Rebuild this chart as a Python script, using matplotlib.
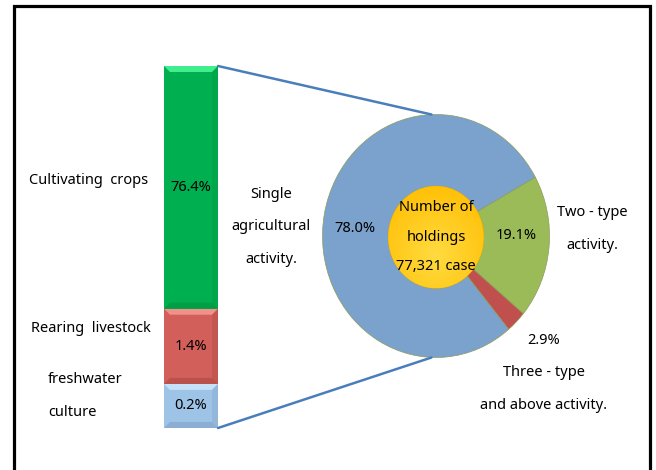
import numpy as np
import matplotlib.pyplot as plt
from matplotlib.patches import Rectangle, Circle, Polygon, ConnectionPatch

plt.rcParams['font.family'] = ['Noto Sans', 'DejaVu Sans']

# breakdown of single agricultural activity (stacked column, bottom to top)
bar_labels = ['freshwater\nculture', 'Rearing  livestock', 'Cultivating  crops']
bar_pcts = [0.2, 1.4, 76.4]
bar_heights = [44, 75, 242]  # drawn block sizes (not to scale)
bar_colors = ['#9DC3E6', '#D35F5A', '#00B050']
bar_light = ['#C6E2FA', '#F0918B', '#40EE8E']
bar_dark = ['#7FA3C8', '#A94844', '#00953F']

# holdings by number of activity types
pie_labels = ['Two - type\nactivity.', 'Three - type\nand above activity.',
              'Single\nagricultural\nactivity.']
pie_pcts = [19.1, 2.9, 78.0]
pie_colors = ['#9BBB59', '#C0504D', '#7BA1CD']
center_text = 'Number of\nholdings\n77,321 case'

W, H = 656, 470
FS = 10.5
LS = 2.55


def fx(px):
    return px / W


def fy(py):
    return 1 - py / H


fig = plt.figure(figsize=(W / 100, H / 100), dpi=100)

# ---- stacked column on the left
ax_bar = fig.add_axes([fx(164), fy(428), 54 / W, 362 / H])
total = sum(bar_heights)
bottom = 0
bx, bd = 0.11, 6  # bevel inset (x in bar widths, y in px units)
for h, pct, c, cl, cd in zip(bar_heights, bar_pcts, bar_colors, bar_light, bar_dark):
    top = bottom + h
    ax_bar.bar(0, h, bottom=bottom, width=1, color=c, edgecolor='none')
    # bevelled edges: light on top, dark at the bottom, mid on the sides
    ax_bar.add_patch(Polygon([(-0.5, top), (0.5, top), (0.5 - bx, top - bd),
                              (-0.5 + bx, top - bd)], color=cl, lw=0))
    ax_bar.add_patch(Polygon([(-0.5, bottom), (0.5, bottom), (0.5 - bx, bottom + bd),
                              (-0.5 + bx, bottom + bd)], color=cd, lw=0, alpha=0.6))
    ax_bar.add_patch(Polygon([(0.5, top), (0.5, bottom), (0.5 - bx, bottom + bd),
                              (0.5 - bx, top - bd)], color=cd, lw=0, alpha=0.35))
    ax_bar.text(0, bottom + h / 2, f'{pct}%', ha='center', va='center', fontsize=FS)
    bottom = top
ax_bar.set_xlim(-0.5, 0.5)
ax_bar.set_ylim(0, total)
ax_bar.axis('off')

# category names beside the column
fig.text(fx(89), fy(180), bar_labels[2], ha='center', va='center', fontsize=FS)
fig.text(fx(91), fy(328), bar_labels[1], ha='center', va='center', fontsize=FS)
fig.text(fx(48), fy(396), bar_labels[0], ha='left', va='center', fontsize=FS,
         linespacing=LS)

# ---- pie on the right
ax_pie = fig.add_axes([fx(322.5), fy(357.5), 227 / W, 243 / H])
ax_pie.pie(pie_pcts, colors=pie_colors, startangle=29, counterclock=False,
           radius=1, wedgeprops=dict(edgecolor='#8C9C5A', linewidth=0.5))
ax_pie.set_aspect('auto')
ax_pie.set_xlim(-1, 1)
ax_pie.set_ylim(-1, 1)
ax_pie.axis('off')

# gold centre disc with a soft radial shade
r_in = 0.42
disc = Circle((0, -0.01), r_in, facecolor='#FFC000', edgecolor='#E0A800', lw=0.6)
ax_pie.add_patch(disc)
gy, gx = np.mgrid[-1:1:200j, -1:1:200j]
shade = np.clip(np.hypot(gx, gy + 0.35) / 1.5, 0, 1)
img = np.zeros((200, 200, 4))
img[..., 0] = 1.0
img[..., 1] = 0.86 - 0.12 * shade
img[..., 2] = 0.25 * (1 - shade)
img[..., 3] = 1
im = ax_pie.imshow(img, extent=[-r_in, r_in, -r_in - 0.01, r_in - 0.01],
                   origin='lower', aspect='auto', zorder=3)
im.set_clip_path(disc)
ax_pie.text(0, -0.01, center_text, ha='center', va='center', fontsize=FS,
            linespacing=2.3, zorder=4)

# percentages on the pie
ax_pie.text(-0.71, 0.06, f'{pie_pcts[2]}%', ha='center', va='center', fontsize=FS)
ax_pie.text(0.71, 0.0, f'{pie_pcts[0]}%', ha='center', va='center', fontsize=FS)
ax_pie.text(0.95, -0.86, f'{pie_pcts[1]}%', ha='center', va='center', fontsize=FS)

# pie category names
fig.text(fx(271), fy(227), pie_labels[2], ha='center', va='center', fontsize=FS,
         linespacing=LS)
fig.text(fx(592), fy(229), pie_labels[0], ha='center', va='center', fontsize=FS,
         linespacing=LS)
fig.text(fx(544), fy(389), pie_labels[1], ha='center', va='center', fontsize=FS,
         linespacing=LS)

# connector lines from the column to the pie
for ya, yb in [(total, 1.0), (0, -1.0)]:
    con = ConnectionPatch(xyA=(0.5, ya), coordsA=ax_bar.transData,
                          xyB=(-0.04, yb), coordsB=ax_pie.transData,
                          color='#4A7EBB', lw=1.8)
    fig.add_artist(con)

# outer frame
fig.add_artist(Rectangle((fx(13.5), -0.1), (649.5 - 13.5) / W, fy(5.5) + 0.1,
                         transform=fig.transFigure, fill=False,
                         edgecolor='black', lw=2.3, clip_on=False))

fig.savefig('out.png', dpi=100)
